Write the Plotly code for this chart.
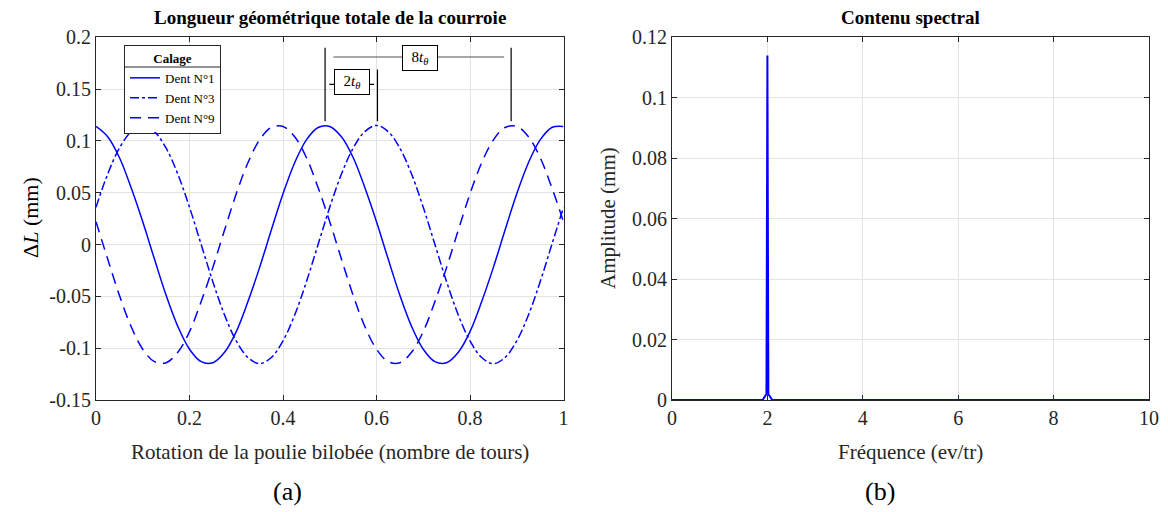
import plotly.graph_objects as go

# ---------------- data ----------------
rotation = [i * 0.025 for i in range(41)]  # tours
dent1 = [0.114, 0.104, 0.084, 0.055, 0.022, -0.014, -0.049, -0.079, -0.101, -0.113,
         -0.114, -0.104, -0.084, -0.055, -0.022, 0.014, 0.049, 0.079, 0.101, 0.113,
         0.114, 0.104, 0.084, 0.055, 0.022, -0.014, -0.049, -0.079, -0.101, -0.113,
         -0.114, -0.104, -0.084, -0.055, -0.022, 0.014, 0.049, 0.079, 0.101, 0.113, 0.114]
dent3 = [0.036, 0.068, 0.093, 0.109, 0.115, 0.109, 0.093, 0.068, 0.036, 0.0,
         -0.036, -0.068, -0.093, -0.109, -0.115, -0.109, -0.093, -0.068, -0.036, 0.0,
         0.036, 0.068, 0.093, 0.109, 0.115, 0.109, 0.093, 0.068, 0.036, 0.0,
         -0.036, -0.068, -0.093, -0.109, -0.115, -0.109, -0.093, -0.068, -0.036, 0.0, 0.036]
dent9 = [0.022, -0.014, -0.049, -0.079, -0.101, -0.113, -0.114, -0.104, -0.084, -0.055,
         -0.022, 0.014, 0.049, 0.079, 0.101, 0.113, 0.114, 0.104, 0.084, 0.055,
         0.022, -0.014, -0.049, -0.079, -0.101, -0.113, -0.114, -0.104, -0.084, -0.055,
         -0.022, 0.014, 0.049, 0.079, 0.101, 0.113, 0.114, 0.104, 0.084, 0.055, 0.022]
series_names = ["Dent N°1", "Dent N°3", "Dent N°9"]

freq = [0, 1.9, 1.98, 2.0, 2.02, 2.1, 10]
amplitude = [0, 0, 0.002, 0.114, 0.002, 0, 0]

left_yticks = [-0.15, -0.1, -0.05, 0, 0.05, 0.1, 0.15, 0.2]
left_yticklabels = ["-0.15", "-0.1", "-0.05", "0", "0.05", "0.1", "0.15", "0.2"]
left_xticks = [0, 0.2, 0.4, 0.6, 0.8, 1]
left_xticklabels = ["0", "0.2", "0.4", "0.6", "0.8", "1"]
right_yticks = [0, 0.02, 0.04, 0.06, 0.08, 0.1, 0.12]
right_yticklabels = ["0", "0.02", "0.04", "0.06", "0.08", "0.1", "0.12"]
right_xticks = [0, 2, 4, 6, 8, 10]
right_xticklabels = ["0", "2", "4", "6", "8", "10"]

# ---------------- figure ----------------
OFF = 8  # page body margin
W, H = 1168 - OFF, 512 - OFF
FONT = "Liberation Serif"
BLUE = "#0000FF"
AX = "#262626"
GRID = "#E3E3E3"

fig = go.Figure()
styles = ["solid", "dashdot", "11px,7px"]
for name, ys, dsh in zip(series_names, [dent1, dent3, dent9], styles):
    fig.add_trace(go.Scatter(x=rotation, y=ys, mode="lines", name=name,
                             line=dict(color=BLUE, width=1.5, dash=dsh, shape="spline", smoothing=1.0),
                             xaxis="x", yaxis="y"))
fig.add_trace(go.Scatter(x=freq, y=amplitude, mode="lines", showlegend=False,
                         line=dict(color=BLUE, width=2), xaxis="x2", yaxis="y2"))

def px_x(p):
    return (p - OFF) / W

def px_y(p):
    return 1 - (p - OFF) / H

ydom = [px_y(400), px_y(37.3)]
common = dict(showline=True, linecolor=AX, linewidth=1, mirror="ticks", ticks="inside",
              ticklen=5, tickcolor=AX, showgrid=True, gridcolor=GRID, gridwidth=1,
              zeroline=False, automargin=False,
              tickfont=dict(family=FONT, size=20, color=AX))

fig.update_layout(
    template="none",
    width=W, height=H, margin=dict(l=0, r=0, t=0, b=0, pad=0, autoexpand=False),
    paper_bgcolor="white", plot_bgcolor="white",
    font=dict(family=FONT, color=AX),
    xaxis=dict(domain=[px_x(96), px_x(563.5)], range=[0, 1], tickvals=left_xticks,
               ticktext=left_xticklabels, anchor="y", **common),
    yaxis=dict(domain=ydom, range=[-0.15, 0.2], tickvals=left_yticks,
               ticktext=left_yticklabels, anchor="x", **common),
    xaxis2=dict(domain=[px_x(672), px_x(1149)], range=[0, 10], tickvals=right_xticks,
                ticktext=right_xticklabels, anchor="y2", **common),
    yaxis2=dict(domain=ydom, range=[0, 0.12], tickvals=right_yticks,
                ticktext=right_yticklabels, anchor="x2", **common),
    legend=dict(x=px_x(124), y=px_y(45), xanchor="left", yanchor="top",
                bgcolor="rgba(0,0,0,0)", bordercolor=AX, borderwidth=1,
                font=dict(family=FONT, size=13, color="black"),
                title=dict(text="<b>Calage</b>", side="top center",
                           font=dict(family=FONT, size=13, color="black")),
                tracegroupgap=0, itemwidth=30),
    showlegend=True,
)

# legend background + title separator (drawn under the transparent legend)
fig.add_shape(type="rect", xref="paper", yref="paper", x0=px_x(124), x1=px_x(221),
              y0=px_y(132), y1=px_y(45), fillcolor="white", line=dict(width=0), layer="above")
fig.add_shape(type="line", xref="paper", yref="paper", x0=px_x(124.5), x1=px_x(220.5),
              y0=px_y(67), y1=px_y(67), line=dict(color=AX, width=1), layer="above")

# Annotation shapes (period markers) in data coords
gray = "#555555"
vlines = [(0.49, 0.119, 0.190), (0.602, 0.119, 0.169), (0.888, 0.119, 0.190)]
for xv, y0, y1 in vlines:
    fig.add_shape(type="line", xref="x", yref="y", x0=xv, x1=xv, y0=y0, y1=y1,
                  line=dict(color="black", width=1.2))
fig.add_shape(type="line", xref="x", yref="y", x0=0.508, x1=0.873, y0=0.181, y1=0.181,
              line=dict(color=gray, width=1.2))
fig.add_shape(type="line", xref="x", yref="y", x0=0.499, x1=0.595, y0=0.1546, y1=0.1546,
              line=dict(color="black", width=1.2))
fig.add_annotation(xref="x", yref="y", x=0.692, y=0.1805, text="8<i>t</i><sub><i>θ</i></sub>",
                   showarrow=False, bgcolor="white", bordercolor="black", borderwidth=1,
                   borderpad=3, width=28, font=dict(family=FONT, size=15, color="black"))
fig.add_annotation(xref="x", yref="y", x=0.548, y=0.1565, text="2<i>t</i><sub><i>θ</i></sub>",
                   showarrow=False, bgcolor="white", bordercolor="black", borderwidth=1,
                   borderpad=3, width=28, font=dict(family=FONT, size=15, color="black"))

# Titles and labels
texts = [
    (330, 17, "<b>Longueur géométrique totale de la courroie</b>", 19, 0),
    (910, 17, "<b>Contenu spectral</b>", 19, 0),
    (330, 452, "Rotation de la poulie bilobée (nombre de tours)", 21, 0),
    (910, 452, "Fréquence (ev/tr)", 21, 0),
    (287, 491, "(a)", 26, 0),
    (880, 491, "(b)", 26, 0),
    (30, 218, "Δ<i>L</i> (mm)", 22, -90),
    (608, 218, "Amplitude (mm)", 21, -90),
]
for x, y, t, s, a in texts:
    fig.add_annotation(xref="paper", yref="paper", x=px_x(x), y=px_y(y), text=t,
                       showarrow=False, textangle=a, xanchor="center", yanchor="middle",
                       font=dict(family=FONT, size=s, color="black" if s != 21 else AX))

fig.write_html("out.html")
